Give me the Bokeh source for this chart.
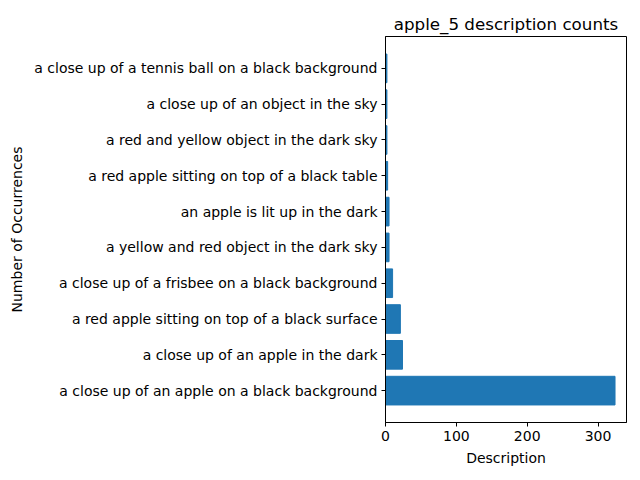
from bokeh.plotting import figure
from bokeh.models import Range1d, FixedTicker
from bokeh.embed import file_html
from bokeh.resources import INLINE

descriptions = [
    "a close up of an apple on a black background",
    "a close up of an apple in the dark",
    "a red apple sitting on top of a black surface",
    "a close up of a frisbee on a black background",
    "a yellow and red object in the dark sky",
    "an apple is lit up in the dark",
    "a red apple sitting on top of a black table",
    "a red and yellow object in the dark sky",
    "a close up of an object in the sky",
    "a close up of a tennis ball on a black background",
]
counts = [324, 24, 21, 10, 5, 5, 3, 2, 2, 2]
x_ticks = [0, 100, 200, 300]

positions = list(range(len(descriptions)))
FONT = "DejaVu Sans"

p = figure(width=640, height=480, output_backend="svg", toolbar_location=None,
           x_range=Range1d(0, max(counts) * 1.05),
           y_range=Range1d(-0.4 - 0.49, len(descriptions) - 1 + 0.4 + 0.49),
           title="apple_5 description counts")
p.hbar(y=positions, right=counts, left=0, height=0.8, color="#1f77b4")

p.min_border_left = 385
p.min_border_right = 14
p.min_border_bottom = 58
p.min_border_top = 36

p.title.align = "center"
p.title.text_font = FONT
p.title.text_font_size = "16.7px"
p.title.text_font_style = "normal"
p.title.text_color = "black"
p.title.standoff = 6

p.xgrid.visible = False
p.ygrid.visible = False
p.outline_line_color = "black"
p.outline_line_alpha = 1
p.outline_line_width = 1
p.background_fill_color = "white"
p.border_fill_color = "white"

p.xaxis.ticker = FixedTicker(ticks=x_ticks)
p.yaxis.ticker = FixedTicker(ticks=positions)
p.yaxis.major_label_overrides = {i: d for i, d in zip(positions, descriptions)}
p.xaxis.axis_label = "Description"
p.yaxis.axis_label = "Number of Occurrences"

for ax in (p.xaxis[0], p.yaxis[0]):
    ax.major_label_text_font = FONT
    ax.major_label_text_font_size = "14px"
    ax.major_label_text_color = "black"
    ax.axis_label_text_font = FONT
    ax.axis_label_text_font_size = "14px"
    ax.axis_label_text_font_style = "normal"
    ax.axis_label_text_color = "black"
    ax.major_tick_in = 0
    ax.major_tick_out = 4
    ax.minor_tick_line_color = None
    ax.axis_line_color = "black"
    ax.major_tick_line_color = "black"
    ax.major_label_standoff = 4
    ax.axis_label_standoff = 6

open("out.html", "w").write(file_html(p, INLINE))
